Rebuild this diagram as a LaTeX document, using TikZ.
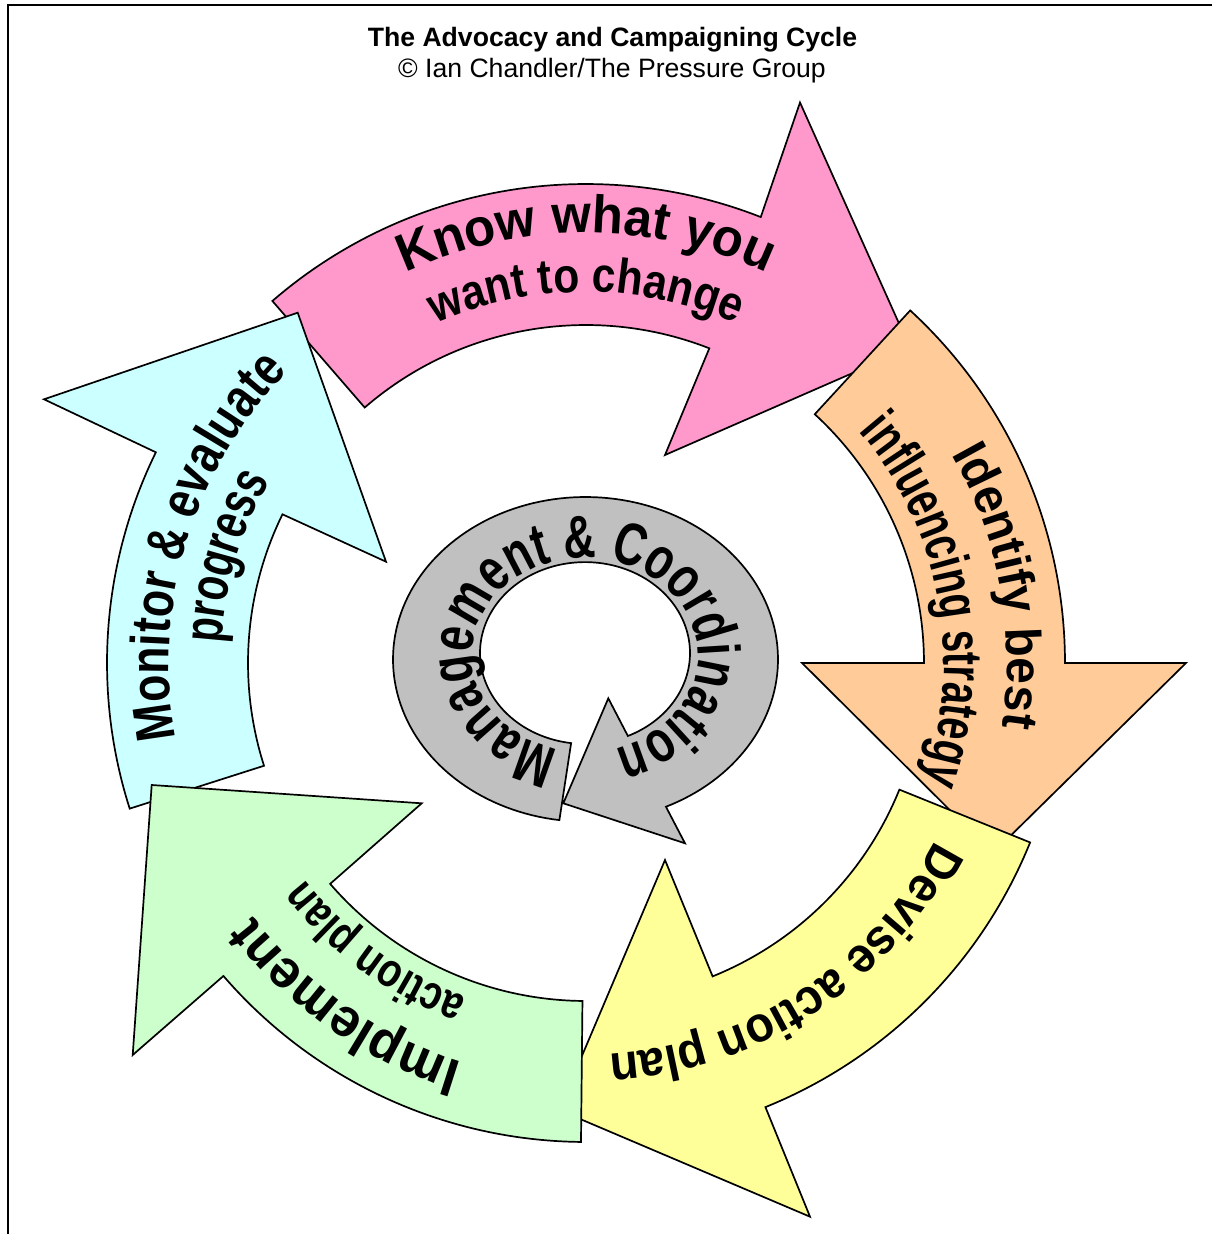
\documentclass[tikz,border=0pt]{standalone}
\usepackage{fontspec}
\setmainfont{Liberation Sans}
\newfontfamily\fsA{Liberation Sans}[FakeStretch=0.96]
\newfontfamily\fsB{Liberation Sans}[FakeStretch=0.87]
\newfontfamily\fsC{Liberation Sans}[FakeStretch=0.70]
\newfontfamily\fsD{Liberation Sans}[FakeStretch=0.93]
\newfontfamily\fsE{Liberation Sans}[FakeStretch=0.80]
\newfontfamily\fsF{Liberation Sans}[FakeStretch=0.81]
\newfontfamily\fsG{Liberation Sans}[FakeStretch=0.73]
\newfontfamily\fsH{Liberation Sans}[FakeStretch=0.74]
\usetikzlibrary{decorations.text}
\definecolor{pinkc}{HTML}{FF99CC}
\definecolor{orangec}{HTML}{FFCC99}
\definecolor{yellowc}{HTML}{FFFF99}
\definecolor{greenc}{HTML}{CCFFCC}
\definecolor{cyanc}{HTML}{CCFFFF}
\definecolor{grayc}{HTML}{C0C0C0}
\tikzset{
  arrowshape/.style={draw=black, line width=1.7pt, line join=miter},
  frameline/.style={draw=black, line width=2pt},
}
\begin{document}
\begin{tikzpicture}[x=1pt,y=-1pt]
\useasboundingbox (0,0) rectangle (1211,1234);
\fill[white] (0,0) rectangle (1211,1234);
\draw[frameline] (7.5,1240) -- (7.5,5) -- (1220,5);

% titles
\node[font=\bfseries\fontsize{26.6}{32}\selectfont, anchor=base, inner sep=0pt] (title) at (612.5,46) {The Advocacy and Campaigning Cycle};
\node[font=\fontsize{26.6}{32}\selectfont, anchor=base, inner sep=0pt] (credit) at (612,77) {© Ian Chandler/The Pressure Group};

% pink arrow
\draw[arrowshape, fill=pinkc]
  plot[domain=-130.9:-68.6, samples=60] ({586+479*cos(\x)},{663+479*sin(\x)})
  -- (800,102.5) -- (910,348) -- (665,455)
  -- plot[domain=-68.6:-130.9, samples=60] ({586+338*cos(\x)},{663+338*sin(\x)}) -- cycle;
\path[decorate, decoration={text along path, text align=center,
  text={|\fsA\bfseries\fontsize{53}{60}\selectfont|Know what you}}]
  plot[domain=-135:-45, samples=90] ({586+430*cos(\x)},{663+430*sin(\x)});
\path[decorate, decoration={text along path, text align=center,
  text={|\fsB\bfseries\fontsize{49}{56}\selectfont|want to change}}]
  plot[domain=-135:-45, samples=90] ({586+371*cos(\x)},{663+371*sin(\x)});

% orange arrow
\draw[arrowshape, fill=orangec]
  plot[domain=-47.4:0, samples=50] ({586+479*cos(\x)},{663+479*sin(\x)})
  -- (1186,663) -- (993,853) -- (802,663)
  -- plot[domain=0:-47.4, samples=50] ({586+338*cos(\x)},{663+338*sin(\x)}) -- cycle;
\path[decorate, decoration={text along path, text align=center,
  text={|\fsA\bfseries\fontsize{50}{58}\selectfont|Identify best}}]
  plot[domain=-50.5:29.5, samples=80] ({586+421*cos(\x)},{663+421*sin(\x)});
\path[decorate, decoration={text along path, text align=center,
  text={|\fsC\bfseries\fontsize{56}{64}\selectfont|influencing strategy}}]
  plot[domain=-50.5:29.5, samples=80] ({586+358*cos(\x)},{663+358*sin(\x)});

% yellow arrow
\draw[arrowshape, fill=yellowc]
  plot[domain=22:68, samples=50] ({586+479*cos(\x)},{663+479*sin(\x)})
  -- (810,1216.7) -- (559,1110) -- (665,860)
  -- plot[domain=68:22, samples=50] ({586+338*cos(\x)},{663+338*sin(\x)}) -- cycle;
\path[decorate, decoration={text along path, text align=center,
  text={|\fsD\bfseries\fontsize{50}{58}\selectfont|Devise action plan}}]
  plot[domain=16.8:96.8, samples=80] ({586+392*cos(\x)},{663+392*sin(\x)});

% cyan arrow
\draw[arrowshape, fill=cyanc]
  plot[domain=162.3:206.1, samples=50] ({586+479*cos(\x)},{663+479*sin(\x)})
  -- (44,399.3) -- (297.7,312.7) -- (386,561.7)
  -- plot[domain=206.1:162.3, samples=50] ({586+338*cos(\x)},{663+338*sin(\x)}) -- cycle;
\path[decorate, decoration={text along path, text align=center,
  text={|\fsF\bfseries\fontsize{55}{63}\selectfont|Monitor {\&} evaluate}}]
  plot[domain=157:237, samples=80] ({586+417*cos(\x)},{663+417*sin(\x)});
\path[decorate, decoration={text along path, text align=center,
  text={|\fsG\bfseries\fontsize{55}{63}\selectfont|progress}}]
  plot[domain=166.5:226.5, samples=60] ({586+365*cos(\x)},{663+365*sin(\x)});

% green arrow
\draw[arrowshape, fill=greenc]
  plot[domain=90.6:139.2, samples=50] ({586+479*cos(\x)},{663+479*sin(\x)})
  -- (132.7,1055) -- (151.7,785) -- (421.7,803.3)
  -- plot[domain=139.2:90.6, samples=50] ({586+338*cos(\x)},{663+338*sin(\x)}) -- cycle;
\path[decorate, decoration={text along path, text align=center,
  text={|\fsA\bfseries\fontsize{54}{62}\selectfont|Implement}}]
  plot[domain=90:160, samples=70] ({586+418*cos(\x)},{663+418*sin(\x)});
\path[decorate, decoration={text along path, text align=center,
  text={|\fsE\bfseries\fontsize{48}{56}\selectfont|action plan}}]
  plot[domain=96:156, samples=60] ({586+355*cos(\x)},{663+355*sin(\x)});

% central grey arrow
\draw[arrowshape, fill=grayc]
  plot[domain=97.8:425.3, samples=160] ({585.5+192.5*cos(\x)},{659.3+162.3*sin(\x)})
  -- (685,843.3) -- (563.3,803.3) -- (608.3,698.3)
  -- plot[domain=425.9:97.6, samples=160] ({585+105*cos(\x)},{653+90.9*sin(\x)}) -- cycle;
\path[decorate, decoration={text along path, text align=center,
  text={|\fsH\bfseries\fontsize{60}{68}\selectfont|Management {\&} Coordination}}]
  plot[domain=94:444, samples=220] ({585+113*cos(\x)},{655+97*sin(\x)});
\end{tikzpicture}
\end{document}
